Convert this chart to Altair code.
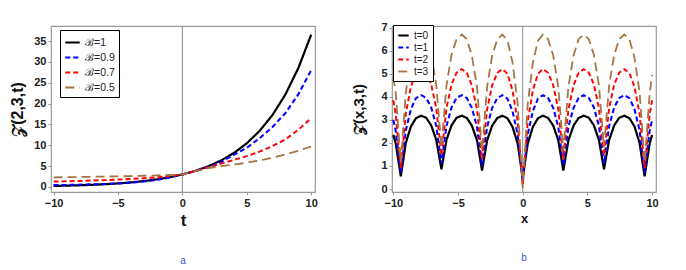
import altair as alt
import pandas as pd

# ---------- panel a : Z(2,3,t) ----------
t_vals = [-10, -9, -8, -7, -6, -5, -4, -3, -2, -1, 0, 1, 2, 3, 4, 5, 6, 7, 8, 9, 10]
za_b10 = [0.25, 0.32, 0.41, 0.52, 0.67, 0.86, 1.10, 1.42, 1.82, 2.34, 3.0,
          3.85, 4.95, 6.35, 8.15, 10.47, 13.45, 17.26, 22.17, 28.46, 36.5]
za_b09 = [0.45, 0.50, 0.56, 0.63, 0.72, 0.85, 1.05, 1.32, 1.70, 2.25, 3.0,
          3.80, 4.80, 6.00, 7.70, 9.40, 11.70, 14.40, 17.70, 22.20, 28.0]
za_b07 = [1.30, 1.37, 1.45, 1.55, 1.65, 1.78, 1.93, 2.10, 2.32, 2.60, 3.0,
          3.80, 4.70, 5.60, 6.50, 7.40, 8.50, 9.80, 11.40, 13.70, 16.5]
za_b05 = [2.30, 2.35, 2.40, 2.45, 2.50, 2.55, 2.62, 2.70, 2.78, 2.88, 3.0,
          3.80, 4.50, 5.00, 5.40, 5.80, 6.40, 7.00, 7.80, 8.70, 9.7]
labels_a = ["ℬ=1", "ℬ=0.9", "ℬ=0.7", "ℬ=0.5"]

# ---------- panel b : Z(x,3,t) ----------
x_vals = [-10, -9.82, -9.42, -9.03, -8.64, -8.25, -7.85, -7.46, -7.07, -6.68, -6.28,
          -5.89, -5.50, -5.11, -4.71, -4.32, -3.93, -3.53, -3.14, -2.75, -2.36, -1.96,
          -1.57, -1.18, -0.79, -0.39, 0, 0.39, 0.79, 1.18, 1.57, 1.96, 2.36, 2.75, 3.14,
          3.53, 3.93, 4.32, 4.71, 5.11, 5.50, 5.89, 6.28, 6.68, 7.07, 7.46, 7.85, 8.25,
          8.64, 9.03, 9.42, 9.82, 10]
zb_t0 = [2.35, 2.00, 0.55, 2.00, 2.71, 3.07, 3.18, 3.09, 2.76, 2.13, 0.85,
         2.13, 2.76, 3.09, 3.18, 3.08, 2.75, 2.11, 0.80, 2.11, 2.75, 3.08,
         3.18, 3.07, 2.70, 1.97, 0.50, 1.97, 2.70, 3.07, 3.18, 3.08, 2.75, 2.11, 0.80,
         2.11, 2.75, 3.08, 3.18, 3.09, 2.76, 2.13, 0.85, 2.13, 2.76, 3.09, 3.18, 3.07,
         2.71, 2.00, 0.55, 2.00, 2.35]
zb_t1 = [3.00, 2.55, 0.70, 2.55, 3.46, 3.94, 4.07, 3.95, 3.54, 2.73, 1.10,
         2.73, 3.54, 3.95, 4.07, 3.95, 3.52, 2.69, 1.00, 2.69, 3.52, 3.95,
         4.07, 3.92, 3.39, 2.37, 0.30, 2.37, 3.39, 3.92, 4.07, 3.95, 3.52, 2.69, 1.00,
         2.69, 3.52, 3.95, 4.07, 3.95, 3.54, 2.73, 1.10, 2.73, 3.54, 3.95, 4.07, 3.94,
         3.46, 2.55, 0.70, 2.55, 3.00]
zb_t2 = [3.85, 3.27, 0.90, 3.27, 4.43, 5.03, 5.20, 5.05, 4.53, 3.51, 1.45,
         3.51, 4.53, 5.05, 5.20, 5.04, 4.50, 3.45, 1.30, 3.45, 4.50, 5.04,
         5.20, 5.00, 4.29, 2.93, 0.15, 2.93, 4.29, 5.00, 5.20, 5.04, 4.50, 3.45, 1.30,
         3.45, 4.50, 5.04, 5.20, 5.05, 4.53, 3.51, 1.45, 3.51, 4.53, 5.05, 5.20, 5.03,
         4.43, 3.27, 0.90, 3.27, 3.85]
zb_t3 = [4.85, 4.20, 1.15, 4.20, 5.70, 6.48, 6.70, 6.50, 5.82, 4.50, 1.80,
         4.50, 5.82, 6.50, 6.70, 6.50, 5.79, 4.43, 1.65, 4.43, 5.79, 6.50,
         6.70, 6.43, 5.50, 3.71, 0.05, 3.71, 5.50, 6.43, 6.70, 6.50, 5.79, 4.43, 1.65,
         4.43, 5.79, 6.50, 6.70, 6.50, 5.82, 4.50, 1.80, 4.50, 5.82, 6.50, 6.70, 6.48,
         5.70, 4.20, 1.15, 4.20, 4.95]
labels_b = ["t=0", "t=1", "t=2", "t=3"]

colors = ["#000000", "#0000ff", "#ff0000", "#a57545"]
dashes = [[1, 0], [5, 3], [5, 3], [9, 5]]
widths = [2.2, 1.8, 1.8, 2.2]

df_a = pd.concat([
    pd.DataFrame({"t": t_vals, "z": s, "series": lab})
    for s, lab in zip([za_b10, za_b09, za_b07, za_b05], labels_a)
])
df_b = pd.concat([
    pd.DataFrame({"x": x_vals, "z": s, "series": lab})
    for s, lab in zip([zb_t0, zb_t1, zb_t2, zb_t3], labels_b)
])

FONT = "Liberation Sans"


def axis(values, title_size, title_pad):
    return alt.Axis(values=values, domain=False, grid=False, tickColor="#999",
                    tickSize=3, labelPadding=2, labelFlush=False,
                    labelFont=FONT, labelFontWeight="bold", labelFontSize=11,
                    labelColor="#222", titleFont=FONT, titleFontWeight="bold",
                    titleFontSize=title_size, titleColor="#111",
                    titlePadding=title_pad)


def panel(df, xfield, xdom, ydom, yvals, xtitle, ytitle, labels, xts, yts, ytp,
          legx, legy, lfs, lsym, rowpad, caption):
    legend = alt.Legend(title=None, orient="none", legendX=legx, legendY=legy,
                        strokeColor="#000", fillColor="white", padding=4,
                        labelFont=FONT, labelFontSize=lfs, labelColor="#222",
                        symbolType="stroke", symbolSize=lsym,
                        symbolStrokeWidth=1.6, rowPadding=rowpad)
    lines = alt.Chart(df).mark_line(clip=True).encode(
        x=alt.X(f"{xfield}:Q", scale=alt.Scale(domain=xdom, nice=False, zero=False),
                axis=axis([-10, -5, 0, 5, 10], xts, 4), title=xtitle),
        y=alt.Y("z:Q", scale=alt.Scale(domain=ydom, nice=False, zero=False),
                axis=axis(yvals, yts, ytp), title=ytitle),
        color=alt.Color("series:N", sort=labels,
                        scale=alt.Scale(domain=labels, range=colors), legend=legend),
        strokeDash=alt.StrokeDash("series:N", sort=labels,
                                  scale=alt.Scale(domain=labels, range=dashes),
                                  legend=legend),
        strokeWidth=alt.StrokeWidth("series:N",
                                    scale=alt.Scale(domain=labels, range=widths),
                                    legend=None),
        detail="series:N",
    )
    zero = alt.Chart(pd.DataFrame({"v": [0]})).mark_rule(color="#888", strokeWidth=1).encode(
        x=alt.X("v:Q"))
    return alt.layer(zero, lines).properties(
        width=264, height=166,
        title=alt.TitleParams(caption, orient="bottom", fontSize=10, color="#3355cc",
                              font=FONT, fontWeight="normal", offset=28))


left = panel(df_a, "t", [-10.2, 10.3], [-1.2, 38.6], [0, 5, 10, 15, 20, 25, 30, 35],
             "t", "𝒵(2,3,t)", labels_a, 17, 16, 8, 9, 4, 10.5, 210, 1, "a")
right = panel(df_b, "x", [-10.1, 10.3], [-0.13, 7.07], [0, 1, 2, 3, 4, 5, 6, 7],
              "x", "𝒵(x,3,t)", labels_b, 13, 15, 14, 1, -1, 10, 110, 0, "b")

chart = alt.hconcat(left, right, spacing=33).resolve_scale(
    color="independent", strokeDash="independent", strokeWidth="independent"
).resolve_legend(
    color="independent", strokeDash="independent"
).properties(
    padding={"left": 1, "top": 13, "right": 0, "bottom": 0}
).configure_view(stroke="#999", strokeWidth=1.2)

chart.save("out.html", embed_options={"renderer": "svg", "actions": False})
